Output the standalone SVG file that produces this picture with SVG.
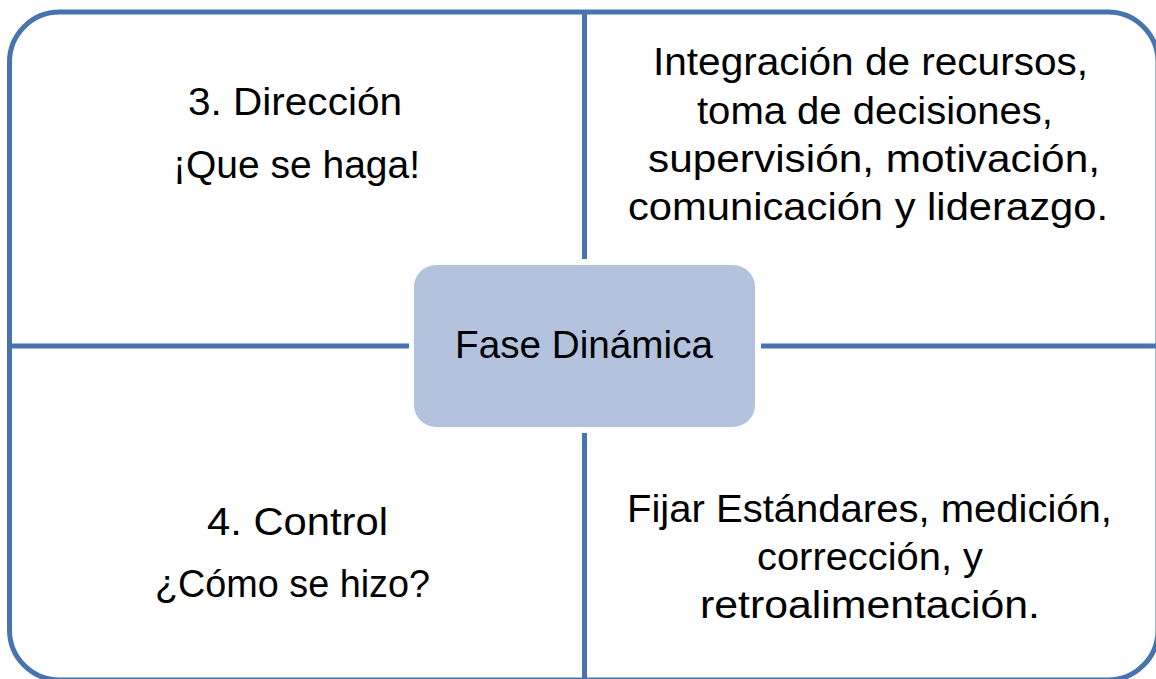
<svg xmlns="http://www.w3.org/2000/svg" width="1156" height="679" viewBox="0 0 1156 679">
<style>
.ln{stroke:#4774AE;stroke-width:5;fill:none}
.t{font-family:"Liberation Sans",Arial,sans-serif;font-size:38px;fill:#000;text-anchor:middle}
</style>
<rect width="1156" height="679" fill="#fff"/>
<g id="frame">
<rect class="ln" x="9.5" y="12" width="1148.5" height="668" rx="50" ry="50"/>
</g>
<g id="connectors">
<line class="ln" x1="584.5" y1="12" x2="584.5" y2="259"/>
<line class="ln" x1="584.5" y1="433" x2="584.5" y2="680"/>
<line class="ln" x1="9.5" y1="346" x2="409" y2="346"/>
<line class="ln" x1="761" y1="346" x2="1158" y2="346"/>
</g>
<g id="center">
<rect x="414" y="265" width="341" height="162" rx="22" ry="22" fill="#B3C3DE"/>
<text class="t" x="584" y="358" textLength="258" lengthAdjust="spacingAndGlyphs">Fase Dinámica</text>
</g>
<g id="direccion">
<text class="t" x="295" y="115" textLength="214" lengthAdjust="spacingAndGlyphs">3. Dirección</text>
<text class="t" x="296.5" y="178" textLength="247" lengthAdjust="spacingAndGlyphs">¡Que se haga!</text>
</g>
<g id="direccion-desc">
<text class="t" x="870.5" y="75" textLength="435" lengthAdjust="spacingAndGlyphs">Integración de recursos,</text>
<text class="t" x="875" y="124" textLength="356" lengthAdjust="spacingAndGlyphs">toma de decisiones,</text>
<text class="t" x="874" y="172" textLength="452" lengthAdjust="spacingAndGlyphs">supervisión, motivación,</text>
<text class="t" x="868" y="220" textLength="480" lengthAdjust="spacingAndGlyphs">comunicación y liderazgo.</text>
</g>
<g id="control">
<text class="t" x="297.5" y="535" textLength="181" lengthAdjust="spacingAndGlyphs">4. Control</text>
<text class="t" x="292.5" y="597" textLength="275" lengthAdjust="spacingAndGlyphs">¿Cómo se hizo?</text>
</g>
<g id="control-desc">
<text class="t" x="869.5" y="522" textLength="485" lengthAdjust="spacingAndGlyphs">Fijar Estándares, medición,</text>
<text class="t" x="870" y="570" textLength="226" lengthAdjust="spacingAndGlyphs">corrección, y</text>
<text class="t" x="870" y="618" textLength="340" lengthAdjust="spacingAndGlyphs">retroalimentación.</text>
</g>
</svg>
